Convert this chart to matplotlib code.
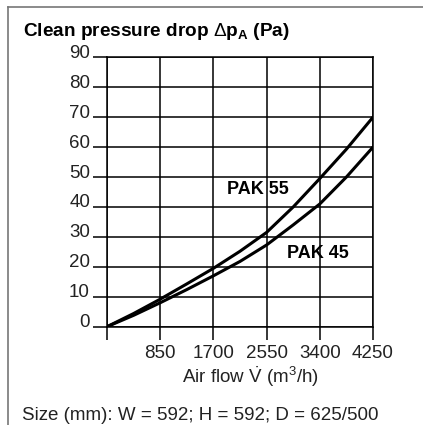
import matplotlib
matplotlib.use("Agg")
import matplotlib.pyplot as plt
from matplotlib.lines import Line2D

plt.rcParams['font.family'] = ['Liberation Sans', 'DejaVu Sans']
plt.rcParams['mathtext.fontset'] = 'custom'
plt.rcParams['mathtext.rm'] = 'Liberation Sans'
plt.rcParams['mathtext.it'] = 'Liberation Sans:italic'
plt.rcParams['mathtext.bf'] = 'Liberation Sans:bold'

# values
airflow = [0, 425, 850, 1275, 1700, 2125, 2550, 2975, 3400, 3825, 4250]
pak55 = [0, 4.4, 9.2, 14.3, 19.5, 25.2, 31.5, 40.0, 49.5, 59.3, 70]
pak45 = [0, 3.8, 8.0, 12.4, 17.0, 21.8, 27.3, 34.0, 41.0, 50.0, 60]

x_ticks = [0, 850, 1700, 2550, 3400, 4250]
x_labels = ['', '850', '1700', '2550', '3400', '4250']
y_ticks = list(range(0, 100, 10))

W, H = 423, 425
fig = plt.figure(figsize=(W / 100, H / 100), dpi=100)

# outer frame (left + top only)
fig.add_artist(Line2D([8 / W, 8 / W], [0, 1 - 7 / H], color='#777777', lw=1.2))
fig.add_artist(Line2D([8 / W, 1], [1 - 7 / H, 1 - 7 / H], color='#777777', lw=1.2))

ax = fig.add_axes([107 / W, 1 - 326.7 / H, 266 / W, 269.4 / H])
ax.set_xlim(0, 4250)
ax.set_ylim(0, 90)

ax.plot(airflow, pak55, color='black', lw=2.2, solid_capstyle='round')
ax.plot(airflow, pak45, color='black', lw=2.2, solid_capstyle='round')

ax.set_xticks(x_ticks)
ax.set_xticklabels(x_labels)
ax.set_yticks(y_ticks)
ax.set_yticklabels([])
ax.grid(True, color='black', lw=1.1)
for s in ax.spines.values():
    s.set_color('black')
    s.set_linewidth(1.1)

ax.tick_params(axis='y', direction='out', length=10, width=1.1)
ax.tick_params(axis='x', direction='out', length=9.5, width=1.1, pad=4,
               labelsize=13.5, labelcolor='#222222')

# y labels sit a little above their grid line
for v in y_ticks:
    ax.annotate(str(v), xy=(0, v), xycoords='data', xytext=(-17, 4),
                textcoords='offset pixels', ha='right', va='center',
                fontsize=13.5, color='#222222', annotation_clip=False)

ax.text(1917, 45.7, 'PAK 55', fontsize=13, fontweight='bold', va='center')
ax.text(2876, 24.6, 'PAK 45', fontsize=13, fontweight='bold', va='center')

fig.text(23 / W, 1 - 31 / H, r'Clean pressure drop $\Delta$p$_\mathbf{A}$ (Pa)',
         fontsize=13.7, fontweight='bold', va='center', ha='left')
fig.text(250 / W, 1 - 377 / H, r'Air flow $\dot{\mathrm{V}}$ (m$^3$/h)', fontsize=13.5,
         color='#222222', ha='center', va='center')
fig.text(22 / W, 1 - 415 / H, 'Size (mm): W = 592; H = 592; D = 625/500',
         fontsize=13.5, color='#222222', ha='left', va='center')

fig.savefig('out.png', dpi=100)
